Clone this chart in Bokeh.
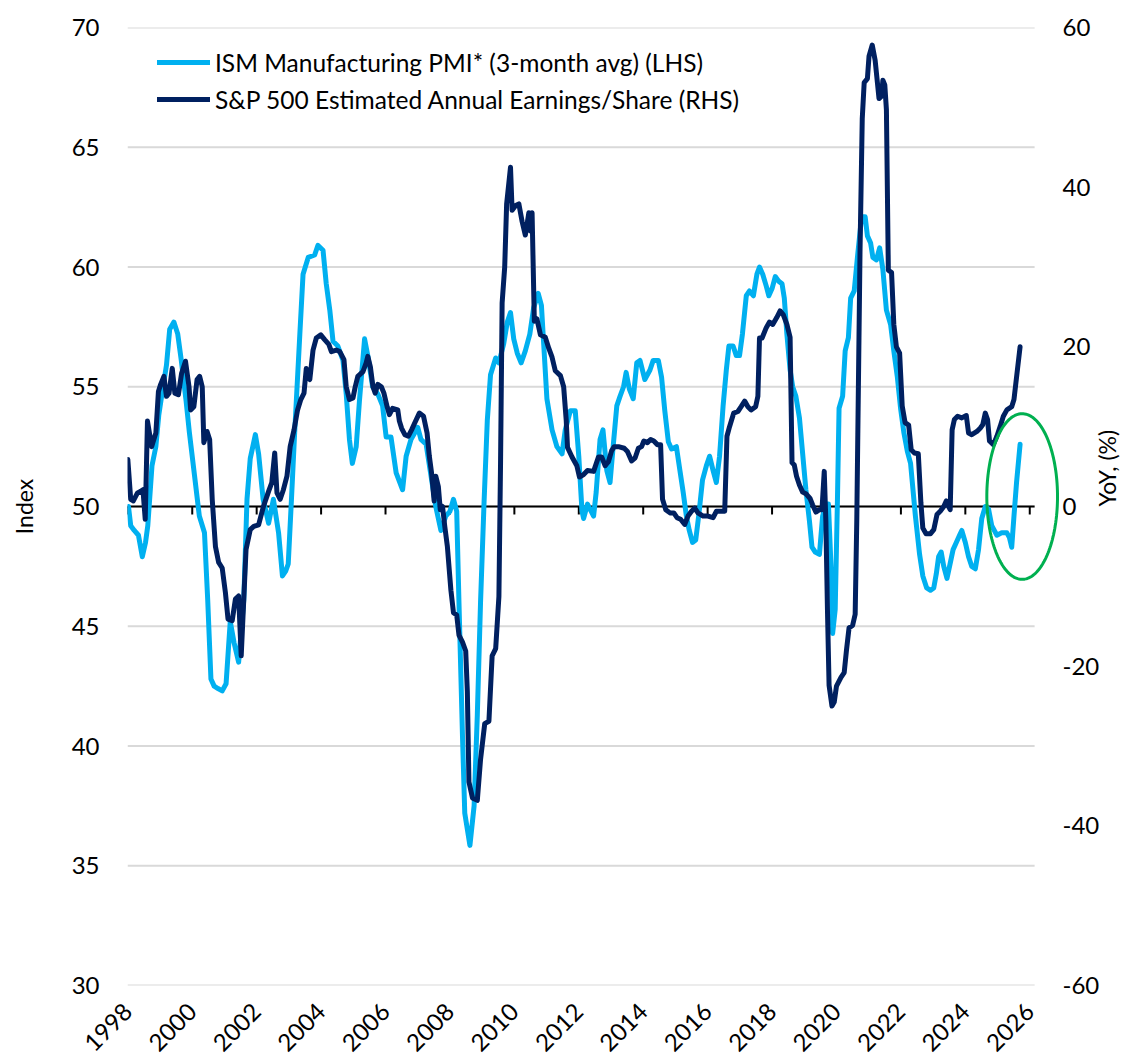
import numpy as np
from math import pi
from bokeh.plotting import figure
from bokeh.models import Range1d, LinearAxis, FixedTicker, PolyAnnotation
from bokeh.embed import file_html
from bokeh.resources import INLINE

# ---------------- data ----------------
ism_date = [1998.02, 1998.09, 1998.2, 1998.33, 1998.45, 1998.55, 1998.62, 1998.75, 1998.87, 1998.96,
            1999.06, 1999.2, 1999.3, 1999.43, 1999.55, 1999.66, 1999.81, 1999.91, 2000.07, 2000.22,
            2000.38, 2000.48, 2000.58, 2000.68, 2000.8, 2000.93, 2001.05, 2001.18, 2001.3, 2001.44,
            2001.6, 2001.7, 2001.8, 2001.96, 2002.06, 2002.2, 2002.37, 2002.52, 2002.68, 2002.8,
            2002.9, 2002.98, 2003.08, 2003.18, 2003.34, 2003.44, 2003.6, 2003.8, 2003.9, 2004.06,
            2004.16, 2004.27, 2004.37, 2004.52, 2004.68, 2004.78, 2004.88, 2004.97, 2005.09, 2005.19,
            2005.35, 2005.45, 2005.6, 2005.76, 2005.91, 2006.02, 2006.17, 2006.33, 2006.53, 2006.64,
            2006.79, 2007.0, 2007.1, 2007.26, 2007.41, 2007.56, 2007.72, 2007.87, 2008.0, 2008.11,
            2008.21, 2008.28, 2008.39, 2008.46, 2008.62, 2008.75, 2008.85, 2008.95, 2009.06, 2009.16,
            2009.26, 2009.42, 2009.52, 2009.67, 2009.78, 2009.88, 2009.98, 2010.09, 2010.21, 2010.34,
            2010.48, 2010.6, 2010.74, 2010.84, 2010.91, 2011.01, 2011.17, 2011.32, 2011.48, 2011.58,
            2011.74, 2011.89, 2012.0, 2012.1, 2012.15, 2012.27, 2012.46, 2012.54, 2012.66, 2012.75,
            2012.87, 2012.97, 2013.08, 2013.18, 2013.28, 2013.39, 2013.47, 2013.57, 2013.69, 2013.8,
            2013.9, 2014.05, 2014.21, 2014.31, 2014.47, 2014.57, 2014.67, 2014.78, 2014.88, 2015.03,
            2015.14, 2015.24, 2015.34, 2015.43, 2015.53, 2015.63, 2015.73, 2015.84, 2015.96, 2016.06,
            2016.17, 2016.27, 2016.37, 2016.48, 2016.58, 2016.66, 2016.79, 2016.89, 2016.99, 2017.08,
            2017.2, 2017.3, 2017.42, 2017.53, 2017.61, 2017.71, 2017.82, 2017.9, 2018.0, 2018.1,
            2018.21, 2018.31, 2018.38, 2018.46, 2018.56, 2018.64, 2018.74, 2018.85, 2018.95, 2019.05,
            2019.16, 2019.24, 2019.34, 2019.47, 2019.57, 2019.67, 2019.75, 2019.83, 2019.88, 2019.96,
            2020.03, 2020.08, 2020.19, 2020.27, 2020.37, 2020.44, 2020.55, 2020.65, 2020.78, 2020.89,
            2020.96, 2021.06, 2021.13, 2021.24, 2021.34, 2021.44, 2021.55, 2021.68, 2021.78, 2021.89,
            2021.99, 2022.09, 2022.2, 2022.3, 2022.45, 2022.58, 2022.68, 2022.8, 2022.92, 2023.02,
            2023.1, 2023.17, 2023.25, 2023.33, 2023.43, 2023.51, 2023.62, 2023.72, 2023.82, 2023.89,
            2024.0, 2024.1, 2024.2, 2024.31, 2024.41, 2024.51, 2024.62, 2024.72, 2024.82, 2024.98,
            2025.13, 2025.29, 2025.37, 2025.44, 2025.51, 2025.59, 2025.7]
ism_value = [50.0, 49.2, 49.0, 48.8, 47.9, 48.5, 49.2, 51.7, 52.5, 53.8,
             54.7, 55.9, 57.4, 57.7, 57.2, 56.1, 54.4, 53.1, 51.3, 49.6,
             48.9, 46.1, 42.8, 42.5, 42.4, 42.3, 42.6, 45.2, 44.3, 43.5,
             46.1, 50.3, 52.0, 53.0, 52.2, 50.3, 49.3, 50.3, 48.9, 47.1,
             47.3, 47.6, 50.3, 53.1, 57.2, 59.7, 60.4, 60.5, 60.9, 60.7,
             59.3, 58.2, 56.9, 56.7, 56.1, 54.7, 52.8, 51.8, 52.5, 54.4,
             57.0, 56.3, 55.0, 54.7, 54.2, 52.9, 52.9, 51.4, 50.7, 52.1,
             52.8, 53.3, 52.8, 52.6, 51.3, 50.0, 49.0, 49.6, 49.8, 50.3,
             49.8, 46.0, 40.4, 37.2, 35.85, 37.5, 41.3, 46.0, 50.2, 53.6,
             55.5, 56.2, 56.0, 56.8, 57.7, 58.1, 57.0, 56.4, 56.0, 56.5,
             57.2, 58.3, 58.9, 58.4, 56.8, 54.5, 53.2, 52.5, 52.2, 53.2,
             54.0, 54.0, 52.1, 49.8, 49.5, 50.1, 49.6, 50.6, 52.8, 53.2,
             51.5, 51.0, 52.7, 54.2, 54.6, 55.0, 55.6, 54.9, 54.5, 56.0,
             56.1, 55.3, 55.7, 56.1, 56.1, 55.4, 54.0, 52.7, 52.4, 52.5,
             51.5, 50.6, 49.6, 49.0, 48.5, 48.6, 49.7, 51.1, 51.7, 52.1,
             51.5, 51.0, 52.1, 54.2, 55.7, 56.7, 56.7, 56.3, 56.3, 57.2,
             58.8, 59.0, 58.8, 59.7, 60.0, 59.7, 59.2, 58.8, 59.1, 59.6,
             59.4, 59.3, 58.7, 57.2, 55.7, 55.0, 54.6, 53.7, 52.2, 50.7,
             49.4, 48.3, 48.1, 48.0, 49.6, 50.1, 50.1, 47.5, 44.7, 45.7,
             50.3, 54.1, 54.6, 56.5, 57.05, 58.7, 59.0, 60.4, 62.1, 62.1,
             61.3, 61.0, 60.4, 60.3, 60.8, 59.9, 58.2, 57.6, 56.5, 55.4,
             54.1, 53.1, 52.3, 51.8, 49.6, 48.0, 47.1, 46.6, 46.5, 46.6,
             47.2, 47.9, 48.1, 47.5, 47.0, 47.5, 48.2, 48.5, 48.8, 49.0,
             48.5, 47.9, 47.5, 47.4, 48.2, 49.5, 50.0, 49.9, 49.2, 48.8,
             48.9, 48.9, 48.7, 48.3, 49.6, 51.0, 52.6]

eps_date = [1998.0, 1998.09, 1998.17, 1998.3, 1998.4, 1998.47, 1998.54, 1998.61, 1998.74, 1998.87,
            1998.95, 1999.02, 1999.12, 1999.2, 1999.28, 1999.38, 1999.46, 1999.57, 1999.67, 1999.79,
            1999.9, 1999.95, 2000.05, 2000.15, 2000.23, 2000.31, 2000.36, 2000.46, 2000.54, 2000.62,
            2000.72, 2000.82, 2000.93, 2001.03, 2001.11, 2001.24, 2001.34, 2001.44, 2001.52, 2001.6,
            2001.67, 2001.8, 2001.91, 2002.06, 2002.21, 2002.37, 2002.47, 2002.56, 2002.63, 2002.73,
            2002.83, 2002.94, 2003.04, 2003.16, 2003.27, 2003.37, 2003.47, 2003.54, 2003.65, 2003.75,
            2003.85, 2003.99, 2004.11, 2004.24, 2004.32, 2004.47, 2004.58, 2004.71, 2004.78, 2004.88,
            2004.99, 2005.06, 2005.14, 2005.3, 2005.4, 2005.45, 2005.53, 2005.61, 2005.68, 2005.76,
            2005.87, 2005.95, 2006.05, 2006.12, 2006.22, 2006.38, 2006.43, 2006.5, 2006.6, 2006.71,
            2006.81, 2006.91, 2007.05, 2007.18, 2007.29, 2007.36, 2007.43, 2007.51, 2007.56, 2007.64,
            2007.7, 2007.77, 2007.84, 2007.92, 2008.03, 2008.11, 2008.21, 2008.28, 2008.39, 2008.49,
            2008.54, 2008.59, 2008.7, 2008.85, 2008.95, 2009.08, 2009.21, 2009.31, 2009.42, 2009.52,
            2009.57, 2009.62, 2009.7, 2009.76, 2009.88, 2009.93, 2010.04, 2010.14, 2010.24, 2010.34,
            2010.45, 2010.5, 2010.55, 2010.62, 2010.7, 2010.81, 2010.96, 2011.07, 2011.17, 2011.27,
            2011.43, 2011.53, 2011.61, 2011.65, 2011.79, 2011.94, 2012.02, 2012.15, 2012.27, 2012.46,
            2012.61, 2012.71, 2012.82, 2012.92, 2013.02, 2013.1, 2013.23, 2013.41, 2013.51, 2013.64,
            2013.75, 2013.85, 2013.95, 2014.02, 2014.13, 2014.23, 2014.33, 2014.44, 2014.54, 2014.6,
            2014.7, 2014.83, 2014.95, 2015.05, 2015.16, 2015.29, 2015.39, 2015.5, 2015.6, 2015.7,
            2015.86, 2016.01, 2016.17, 2016.27, 2016.4, 2016.53, 2016.6, 2016.68, 2016.81, 2016.94,
            2017.04, 2017.15, 2017.25, 2017.35, 2017.49, 2017.56, 2017.61, 2017.69, 2017.82, 2017.92,
            2018.02, 2018.15, 2018.25, 2018.35, 2018.46, 2018.56, 2018.62, 2018.69, 2018.76, 2018.85,
            2018.95, 2019.05, 2019.18, 2019.26, 2019.36, 2019.47, 2019.55, 2019.62, 2019.67, 2019.72,
            2019.77, 2019.86, 2019.93, 2020.0, 2020.14, 2020.24, 2020.31, 2020.39, 2020.5, 2020.58,
            2020.63, 2020.68, 2020.73, 2020.8, 2020.86, 2020.96, 2021.01, 2021.11, 2021.2, 2021.27,
            2021.32, 2021.4, 2021.44, 2021.5, 2021.55, 2021.61, 2021.71, 2021.78, 2021.86, 2021.96,
            2022.04, 2022.13, 2022.24, 2022.32, 2022.42, 2022.54, 2022.62, 2022.68, 2022.78, 2022.92,
            2023.02, 2023.12, 2023.22, 2023.33, 2023.41, 2023.48, 2023.53, 2023.59, 2023.66, 2023.76,
            2023.89, 2024.03, 2024.1, 2024.2, 2024.36, 2024.46, 2024.54, 2024.62, 2024.69, 2024.75,
            2024.87, 2024.98, 2025.08, 2025.18, 2025.29, 2025.44, 2025.51, 2025.57, 2025.7]
eps_yoy = [5.9, 0.9, 0.7, 1.7, 1.9, 2.1, -1.6, 10.7, 7.5, 9.2,
           14.4, 15.3, 16.3, 13.8, 14.2, 17.3, 14.2, 14.0, 16.7, 18.2,
           15.0, 12.1, 12.5, 15.9, 16.3, 15.0, 8.0, 9.4, 8.4, 0.9,
           -5.0, -7.0, -7.7, -10.8, -14.1, -14.3, -11.6, -11.2, -18.7, -11.6,
           -5.4, -2.9, -2.5, -2.3, 0.0, 1.9, 3.0, 6.7, 1.7, 0.9,
           2.1, 3.8, 7.5, 9.6, 12.1, 13.4, 14.2, 17.3, 15.9, 19.6,
           21.1, 21.5, 20.9, 20.3, 19.4, 19.6, 19.4, 18.4, 15.0, 13.4,
           13.6, 15.0, 16.3, 16.9, 18.0, 18.8, 17.5, 15.0, 14.2, 15.3,
           15.0, 14.2, 12.5, 11.5, 12.3, 12.1, 10.7, 9.8, 9.0, 8.8,
           9.6, 10.5, 11.7, 11.3, 9.2, 6.3, 4.2, 0.7, 3.8, 2.5,
           -0.4, 0.0, -2.5, -5.0, -10.5, -13.3, -13.6, -16.1, -17.0, -18.1,
           -23.2, -34.5, -36.5, -36.8, -31.7, -27.2, -26.9, -18.7, -17.8, -11.3,
           5.1, 25.5, 30.0, 37.9, 42.5, 37.1, 37.7, 37.9, 35.7, 34.0,
           36.8, 34.5, 36.8, 23.2, 23.5, 21.5, 21.2, 19.8, 18.7, 17.0,
           16.4, 15.0, 10.8, 7.4, 6.2, 5.1, 3.7, 4.0, 4.5, 4.4,
           6.2, 6.2, 5.1, 5.6, 7.0, 7.5, 7.5, 7.3, 6.9, 5.7,
           6.1, 7.3, 7.5, 8.2, 8.0, 8.4, 8.2, 7.75, 7.75, 0.9,
           -0.4, -0.8, -0.8, -1.4, -1.6, -2.25, -1.2, -0.6, -0.2, -0.8,
           -1.2, -1.2, -1.4, -0.6, -0.6, -0.6, 8.8, 10.0, 11.7, 11.9,
           12.5, 13.2, 12.5, 12.1, 12.5, 13.8, 21.1, 21.1, 22.4, 23.1,
           22.8, 23.7, 24.5, 24.0, 22.8, 21.2, 5.5, 5.2, 3.8, 2.7,
           1.8, 1.6, 1.0, 0.2, -0.7, -0.4, -0.4, 4.4, -1.8, -13.0,
           -22.4, -25.0, -24.5, -22.5, -21.4, -20.8, -18.0, -15.2, -14.9, -13.5,
           -1.8, 15.0, 31.8, 48.6, 53.1, 53.6, 56.4, 57.8, 55.9, 53.1,
           51.1, 51.4, 53.4, 52.8, 49.7, 29.6, 29.3, 22.8, 20.0, 19.2,
           12.6, 10.5, 10.2, 7.1, 6.7, 6.6, 0.5, -2.7, -3.4, -3.4,
           -2.9, -1.0, -0.6, 0.0, 0.7, 0.0, -0.4, 9.6, 10.9, 11.3,
           11.1, 11.4, 9.2, 9.0, 9.4, 9.8, 10.25, 11.7, 10.9, 8.2,
           7.75, 8.8, 10.0, 11.3, 12.1, 12.5, 13.4, 15.5, 20.0]

lhs_ticks = [30, 35, 40, 45, 50, 55, 60, 65, 70]
rhs_ticks = [-60, -40, -20, 0, 20, 40, 60]
year_ticks = list(range(1998, 2027, 2))

ism_label = "ISM Manufacturing PMI* (3-month avg) (LHS)"
eps_label = "S&P 500 Estimated Annual Earnings/Share (RHS)"
lhs_title = "Index"
rhs_title = "YoY, (%)"

# ---------------- styling ----------------
FONT = "Lato"
PX_PER_YEAR = 32.35
X0 = 1997.99
FW_GRID, FW, FH = 911, 937, 960          # gridded width, full frame width, frame height (px)
XG = X0 + FW_GRID / PX_PER_YEAR         # right end of the gridded area
X1 = X0 + FW / PX_PER_YEAR              # frame extended so the highlight ellipse is not clipped
PX_PER_LHS = FH / 40.0

p = figure(width=1137, height=1061,
           x_range=Range1d(X0, X1), y_range=Range1d(30, 70),
           output_backend="svg", toolbar_location=None,
           min_border_left=127, min_border_right=73,
           min_border_top=27, min_border_bottom=74)
p.outline_line_color = None
p.background_fill_color = "white"
p.extra_y_ranges = {"rhs": Range1d(-60, 60)}
p.xgrid.visible = False
p.ygrid.visible = False


def plain_axis(ax):
    ax.axis_line_color = None
    ax.major_tick_line_color = None
    ax.minor_tick_line_color = None
    ax.major_tick_out = 0
    ax.minor_tick_out = 0
    ax.major_label_text_font = FONT
    ax.major_label_text_color = "black"
    ax.axis_label_text_font = FONT
    ax.axis_label_text_font_style = "normal"
    ax.axis_label_text_color = "black"


# left axis (tick labels + title)
ly = p.yaxis[0]
ly.ticker = FixedTicker(ticks=lhs_ticks)
plain_axis(ly)
ly.major_label_standoff = 28
ly.major_label_text_font_size = "24px"
ly.axis_label = lhs_title
ly.axis_label_standoff = 31
ly.axis_label_text_font_size = "23px"

# right axis (tick labels)
ry = LinearAxis(y_range_name="rhs", ticker=FixedTicker(ticks=rhs_ticks))
plain_axis(ry)
ry.major_label_standoff = 2
ry.major_label_overrides = {t: str(t) for t in rhs_ticks}
ry.major_label_text_font_size = "24px"
p.add_layout(ry, "right")

# right title, reading bottom-to-top from the zero level
rt = LinearAxis(y_range_name="rhs", ticker=FixedTicker(ticks=[]))
plain_axis(rt)
rt.major_label_standoff = 0
rt.axis_label = rhs_title
rt.axis_label_standoff = 4
rt.axis_label_text_font_size = "23px"
if "axis_label_orientation" in rt.properties():
    rt.axis_label_orientation = pi / 2
p.add_layout(rt, "right")

# bottom axis (labels only)
bx = p.xaxis[0]
bx.ticker = FixedTicker(ticks=year_ticks)
plain_axis(bx)
bx.major_label_orientation = pi / 4
bx.major_label_standoff = 22
bx.major_label_text_font_size = "24px"

# horizontal gridlines (only over the dated area), axis line at 50 / 0% with ticks
n = len(lhs_ticks)
p.segment(x0=[X0] * n, y0=lhs_ticks, x1=[XG] * n, y1=lhs_ticks,
          line_color="#D9D9D9", line_width=2)
p.segment(x0=[X0], y0=[50], x1=[XG], y1=[50], line_color="black", line_width=2)
m = len(year_ticks)
p.segment(x0=year_ticks, y0=[50] * m, x1=year_ticks, y1=[50 - 8 / PX_PER_LHS] * m,
          line_color="black", line_width=2)

# series
p.line(ism_date, ism_value, line_color="#00B0F0", line_width=5,
       line_join="round", line_cap="round", legend_label=ism_label)
p.line(eps_date, eps_yoy, y_range_name="rhs", line_color="#002060", line_width=5,
       line_join="round", line_cap="round", legend_label=eps_label)

# legend
lg = p.legend[0]
lg.location = (30, 868)
lg.margin = 0
lg.padding = 0
lg.spacing = 1
lg.glyph_height = 36
lg.label_height = 36
lg.glyph_width = 53
lg.label_standoff = 5
lg.label_text_font = FONT
lg.label_text_font_size = "24.5px"
lg.label_text_color = "black"
lg.background_fill_alpha = 0
lg.border_line_color = None

# green highlight ellipse
t = np.linspace(0, 2 * pi, 160)
cx, cy = X0 + (1025.5 - 127) / PX_PER_YEAR, 50 + 10 / PX_PER_LHS
ax_, by_ = 35.5 / PX_PER_YEAR, 83 / PX_PER_LHS
p.add_layout(PolyAnnotation(xs=list(cx + ax_ * np.cos(t)), ys=list(cy + by_ * np.sin(t)),
                            line_color="#00B050", line_width=3, line_alpha=1.0,
                            fill_color=None, fill_alpha=0))

open("out.html", "w").write(file_html(p, INLINE))
